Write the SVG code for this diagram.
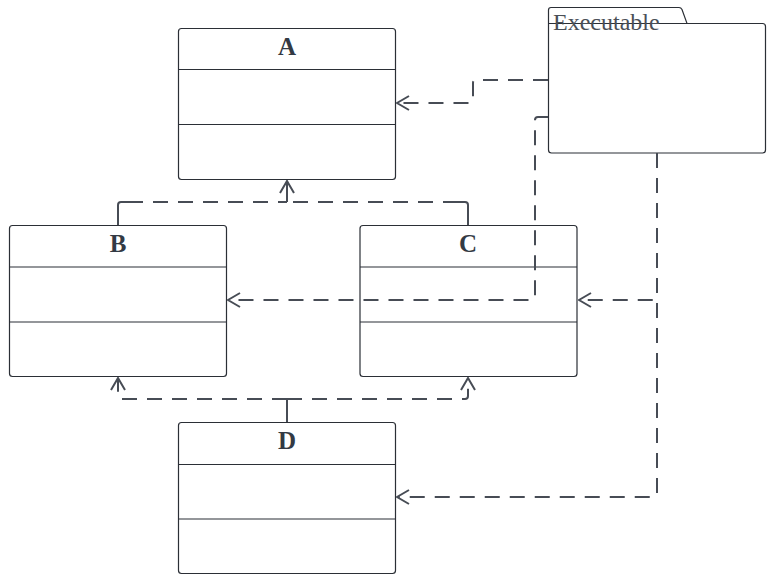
<svg xmlns="http://www.w3.org/2000/svg" width="772" height="582" viewBox="0 0 772 582">
<style>
.box{fill:#fff;stroke:#2b2f36;stroke-width:1.2}
.div{stroke:#2b2f36;stroke-width:1.2}
.lbl{font-family:"Liberation Serif",serif;font-weight:bold;font-size:25px;fill:#333a44;text-anchor:middle}
.dash{fill:none;stroke:#474c55;stroke-width:2;stroke-dasharray:15 10;stroke-linejoin:round}
.solid{fill:none;stroke:#474c55;stroke-width:2}
.pkg{font-family:"Liberation Serif",serif;font-size:24px;fill:#4a4f57}
</style>
<defs>
<marker id="open" viewBox="0 0 14 16" refX="13" refY="8" markerWidth="14" markerHeight="16" markerUnits="userSpaceOnUse" orient="auto">
<path d="M1,1 L13,8 L1,15" fill="none" stroke="#474c55" stroke-width="2"/>
</marker>
</defs>
<g id="A">
<rect class="box" x="178.5" y="28.5" width="217" height="151" rx="3"/>
<line class="div" x1="178.5" y1="69.5" x2="395.5" y2="69.5"/>
<line class="div" x1="178.5" y1="124.5" x2="395.5" y2="124.5"/>
<text class="lbl" x="287" y="55">A</text>
</g>
<g id="B">
<rect class="box" x="9.5" y="225.5" width="217" height="151" rx="3"/>
<line class="div" x1="9.5" y1="267" x2="226.5" y2="267"/>
<line class="div" x1="9.5" y1="322" x2="226.5" y2="322"/>
<text class="lbl" x="118" y="252">B</text>
</g>
<g id="C">
<rect class="box" x="360" y="225.5" width="217" height="151" rx="3"/>
<line class="div" x1="360" y1="267" x2="577" y2="267"/>
<line class="div" x1="360" y1="322" x2="577" y2="322"/>
<text class="lbl" x="468" y="252">C</text>
</g>
<g id="D">
<rect class="box" x="178.5" y="422.5" width="217" height="151" rx="3"/>
<line class="div" x1="178.5" y1="464.5" x2="395.5" y2="464.5"/>
<line class="div" x1="178.5" y1="519" x2="395.5" y2="519"/>
<text class="lbl" x="287" y="449">D</text>
</g>
<g id="Executable">
<path class="box" d="M548.5,23.5 V10 Q548.5,7.5 551,7.5 H679 Q681,7.5 682,9.5 L687,23.5 H762.5 Q765.5,23.5 765.5,26.5 V150 Q765.5,153 762.5,153 H551.5 Q548.5,153 548.5,150 Z"/>
<line class="div" x1="548.5" y1="23.5" x2="687" y2="23.5"/>
<text class="pkg" x="553" y="30">Executable</text>
</g>
<g id="connectors">
<path class="dash" d="M548,80 H476 Q473,80 473,83 V100 Q473,103 470,103 H397" marker-end="url(#open)"/>
<path class="dash" d="M548,117 H538 Q535,117 535,120 V297 Q535,300 532,300 H228" marker-end="url(#open)"/>
<path class="dash" d="M657,153 V297 Q657,300 654,300 H579" marker-end="url(#open)"/>
<path class="dash" d="M657,153 V494 Q657,497 654,497 H397" marker-end="url(#open)"/>
<path class="solid" d="M118,225 V205 Q118,202 121,202 H128"/>
<path class="dash" d="M128,202 H287"/>
<path class="solid" d="M287,202 V181" marker-end="url(#open)"/>
<path class="solid" d="M468,225 V205 Q468,202 465,202 H458"/>
<path class="dash" d="M458,202 H287"/>
<path class="solid" d="M287,422 V399"/>
<path class="dash" d="M287,399 H121 Q118,399 118,396 V378" marker-end="url(#open)"/>
<path class="dash" d="M287,399 H465 Q468,399 468,396 V378" marker-end="url(#open)"/>
</g>
</svg>
